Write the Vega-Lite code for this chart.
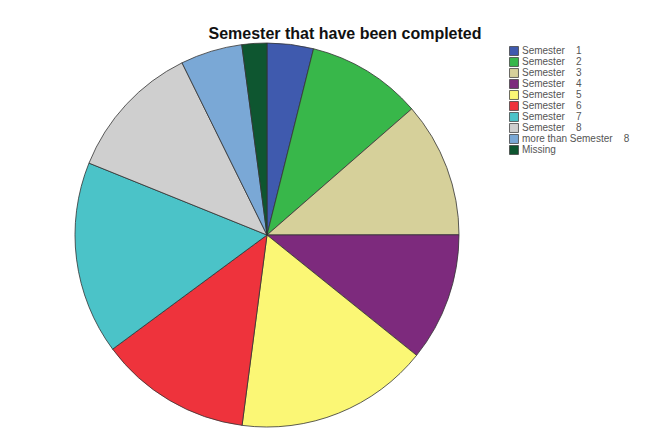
{
  "$schema": "https://vega.github.io/schema/vega-lite/v6.json",
  "autosize": "none",
  "padding": {"left": 0, "top": 0, "right": 130, "bottom": 0},
  "width": 534,
  "height": 470,
  "background": "white",
  "title": {
    "text": "Semester that have been completed",
    "font": "Liberation Sans",
    "fontSize": 16,
    "fontWeight": "bold",
    "color": "#111111",
    "anchor": "middle",
    "frame": "group",
    "dx": 78,
    "offset": -42
  },
  "data": {
    "values": [
      {"category": "Semester\u00a0\u00a0\u00a0\u00a01", "percent": 3.9, "rank": 1},
      {"category": "Semester\u00a0\u00a0\u00a0\u00a02", "percent": 9.7, "rank": 2},
      {"category": "Semester\u00a0\u00a0\u00a0\u00a03", "percent": 11.4, "rank": 3},
      {"category": "Semester\u00a0\u00a0\u00a0\u00a04", "percent": 10.8, "rank": 4},
      {"category": "Semester\u00a0\u00a0\u00a0\u00a05", "percent": 16.3, "rank": 5},
      {"category": "Semester\u00a0\u00a0\u00a0\u00a06", "percent": 12.8, "rank": 6},
      {"category": "Semester\u00a0\u00a0\u00a0\u00a07", "percent": 16.25, "rank": 7},
      {"category": "Semester\u00a0\u00a0\u00a0\u00a08", "percent": 11.6, "rank": 8},
      {"category": "more than Semester\u00a0\u00a0\u00a0\u00a08", "percent": 5.2, "rank": 9},
      {"category": "Missing", "percent": 2.1, "rank": 10}
    ]
  },
  "mark": {"type": "arc", "radius": 192, "stroke": "#333333", "strokeWidth": 0.8},
  "encoding": {
    "theta": {"field": "percent", "type": "quantitative", "stack": true},
    "order": {"field": "rank", "type": "quantitative"},
    "color": {
      "field": "category",
      "type": "nominal",
      "sort": {"field": "rank"},
      "scale": {
        "domain": [
          "Semester\u00a0\u00a0\u00a0\u00a01",
          "Semester\u00a0\u00a0\u00a0\u00a02",
          "Semester\u00a0\u00a0\u00a0\u00a03",
          "Semester\u00a0\u00a0\u00a0\u00a04",
          "Semester\u00a0\u00a0\u00a0\u00a05",
          "Semester\u00a0\u00a0\u00a0\u00a06",
          "Semester\u00a0\u00a0\u00a0\u00a07",
          "Semester\u00a0\u00a0\u00a0\u00a08",
          "more than Semester\u00a0\u00a0\u00a0\u00a08",
          "Missing"
        ],
        "range": ["#3f5aae", "#38b74a", "#d6d09a", "#7d2a7d", "#fbf775", "#ee333c", "#4bc3c8", "#cfcfcf", "#7aa8d6", "#0e5630"]
      },
      "legend": {
        "title": null,
        "orient": "none",
        "legendX": 509,
        "legendY": 46,
        "symbolType": "square",
        "symbolSize": 80,
        "symbolStrokeColor": "#444444",
        "symbolStrokeWidth": 0.8,
        "labelFont": "Liberation Sans",
        "labelFontSize": 10,
        "labelColor": "#555555",
        "labelOffset": 3,
        "labelLimit": 200,
        "clipHeight": 10,
        "rowPadding": 1
      }
    }
  },
  "config": {"view": {"stroke": null}}
}
